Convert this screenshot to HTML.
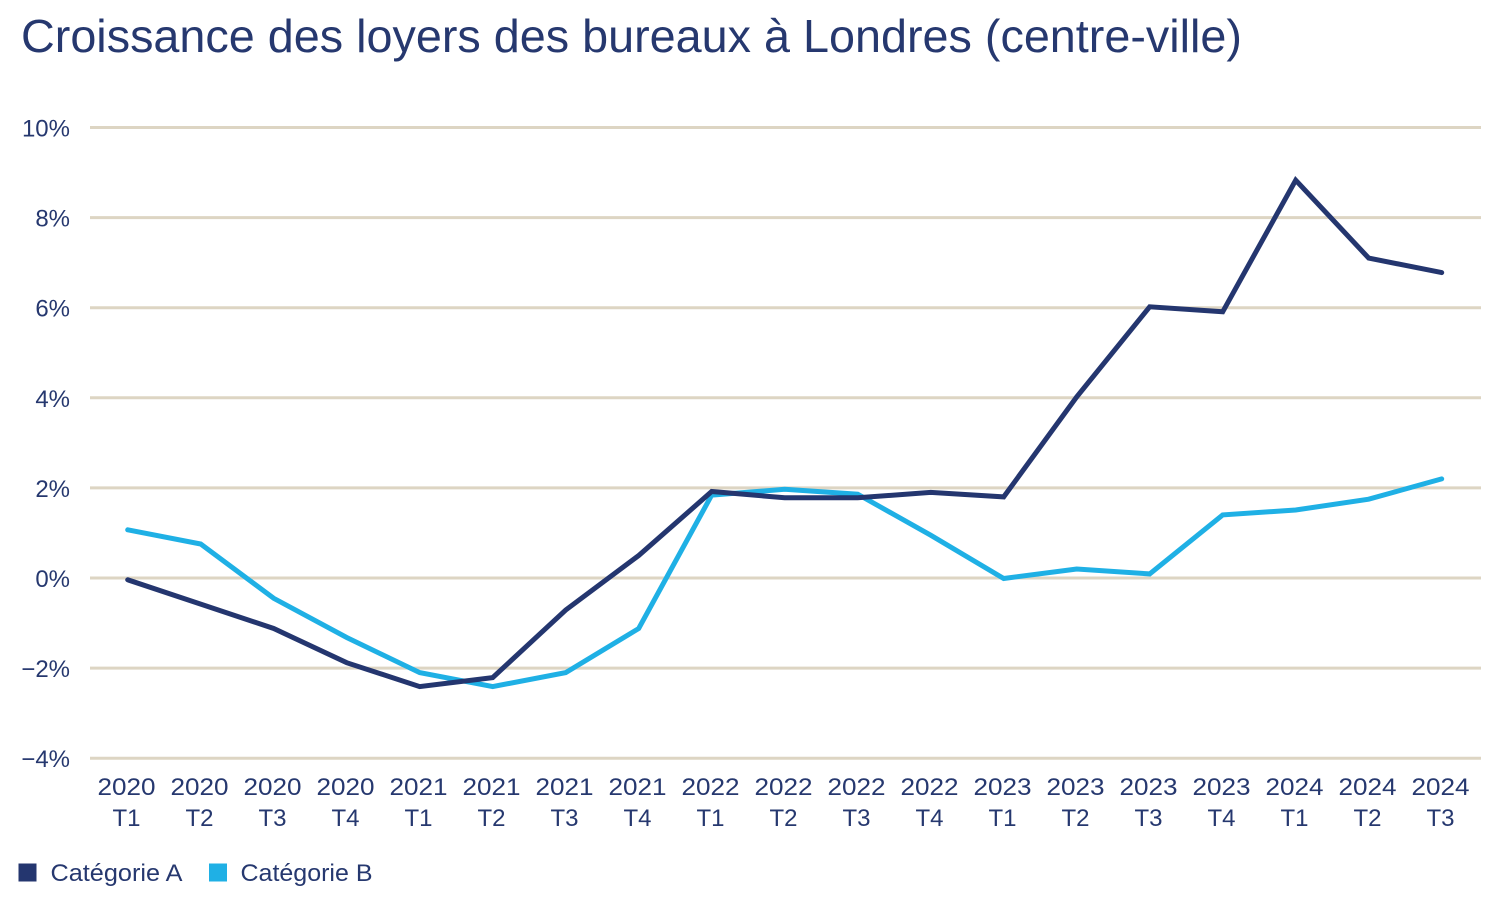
<!DOCTYPE html>
<html>
<head>
<meta charset="utf-8">
<style>
  html,body{margin:0;padding:0;background:#ffffff;}
  svg{display:block;}
  text{font-family:"Liberation Sans", Arial, sans-serif;fill:#26386f;}
</style>
</head>
<body>
<svg width="1500" height="900" viewBox="0 0 1500 900" xmlns="http://www.w3.org/2000/svg">
  <rect width="1500" height="900" fill="#ffffff"/>
  <!-- Title -->
  <text x="21" y="52" font-size="46" textLength="1221" lengthAdjust="spacingAndGlyphs">Croissance des loyers des bureaux à Londres (centre-ville)</text>

  <!-- Gridlines -->
  <g stroke="#ddd5c3" stroke-width="3">
    <line x1="90" y1="127.5" x2="1481" y2="127.5"/>
    <line x1="90" y1="217.6" x2="1481" y2="217.6"/>
    <line x1="90" y1="307.7" x2="1481" y2="307.7"/>
    <line x1="90" y1="397.8" x2="1481" y2="397.8"/>
    <line x1="90" y1="487.9" x2="1481" y2="487.9"/>
    <line x1="90" y1="578" x2="1481" y2="578"/>
    <line x1="90" y1="668.1" x2="1481" y2="668.1"/>
    <line x1="90" y1="758.2" x2="1481" y2="758.2"/>
  </g>

  <!-- Y labels -->
  <g font-size="24" text-anchor="end">
    <text x="70" y="136.5">10%</text>
    <text x="70" y="226.6">8%</text>
    <text x="70" y="316.7">6%</text>
    <text x="70" y="406.8">4%</text>
    <text x="70" y="496.9">2%</text>
    <text x="70" y="587">0%</text>
    <text x="70" y="677.1">−2%</text>
    <text x="70" y="767.2">−4%</text>
  </g>

  <!-- X labels -->
  <g font-size="24" text-anchor="middle">
    <text x="126.5" y="795" textLength="58" lengthAdjust="spacingAndGlyphs">2020</text><text x="126.5" y="826">T1</text>
    <text x="199.5" y="795" textLength="58" lengthAdjust="spacingAndGlyphs">2020</text><text x="199.5" y="826">T2</text>
    <text x="272.5" y="795" textLength="58" lengthAdjust="spacingAndGlyphs">2020</text><text x="272.5" y="826">T3</text>
    <text x="345.5" y="795" textLength="58" lengthAdjust="spacingAndGlyphs">2020</text><text x="345.5" y="826">T4</text>
    <text x="418.5" y="795" textLength="58" lengthAdjust="spacingAndGlyphs">2021</text><text x="418.5" y="826">T1</text>
    <text x="491.5" y="795" textLength="58" lengthAdjust="spacingAndGlyphs">2021</text><text x="491.5" y="826">T2</text>
    <text x="564.5" y="795" textLength="58" lengthAdjust="spacingAndGlyphs">2021</text><text x="564.5" y="826">T3</text>
    <text x="637.5" y="795" textLength="58" lengthAdjust="spacingAndGlyphs">2021</text><text x="637.5" y="826">T4</text>
    <text x="710.5" y="795" textLength="58" lengthAdjust="spacingAndGlyphs">2022</text><text x="710.5" y="826">T1</text>
    <text x="783.5" y="795" textLength="58" lengthAdjust="spacingAndGlyphs">2022</text><text x="783.5" y="826">T2</text>
    <text x="856.5" y="795" textLength="58" lengthAdjust="spacingAndGlyphs">2022</text><text x="856.5" y="826">T3</text>
    <text x="929.5" y="795" textLength="58" lengthAdjust="spacingAndGlyphs">2022</text><text x="929.5" y="826">T4</text>
    <text x="1002.5" y="795" textLength="58" lengthAdjust="spacingAndGlyphs">2023</text><text x="1002.5" y="826">T1</text>
    <text x="1075.5" y="795" textLength="58" lengthAdjust="spacingAndGlyphs">2023</text><text x="1075.5" y="826">T2</text>
    <text x="1148.5" y="795" textLength="58" lengthAdjust="spacingAndGlyphs">2023</text><text x="1148.5" y="826">T3</text>
    <text x="1221.5" y="795" textLength="58" lengthAdjust="spacingAndGlyphs">2023</text><text x="1221.5" y="826">T4</text>
    <text x="1294.5" y="795" textLength="58" lengthAdjust="spacingAndGlyphs">2024</text><text x="1294.5" y="826">T1</text>
    <text x="1367.5" y="795" textLength="58" lengthAdjust="spacingAndGlyphs">2024</text><text x="1367.5" y="826">T2</text>
    <text x="1440.5" y="795" textLength="58" lengthAdjust="spacingAndGlyphs">2024</text><text x="1440.5" y="826">T3</text>
  </g>

  <!-- Series B (light blue) -->
  <polyline fill="none" stroke="#1fb0e5" stroke-width="5" stroke-linecap="round" stroke-linejoin="miter"
    points="127.7,529.8 200.7,544.0 273.7,598.3 346.7,637.5 419.7,672.6 492.7,686.6 565.7,672.6 638.7,628.5 711.7,495.1 784.7,489.3 857.7,494.2 930.7,535.2 1003.7,578.5 1076.7,569.0 1149.7,573.9 1222.7,514.9 1295.7,510.0 1368.7,499.2 1441.7,478.9"/>

  <!-- Series A (navy) -->
  <polyline fill="none" stroke="#24366f" stroke-width="5" stroke-linecap="round" stroke-linejoin="miter"
    points="127.7,579.8 200.7,604.1 273.7,628.5 346.7,662.7 419.7,686.6 492.7,677.6 565.7,610.0 638.7,555.5 711.7,491.5 784.7,497.8 857.7,497.8 930.7,492.4 1003.7,496.9 1076.7,396.9 1149.7,306.8 1222.7,311.8 1295.7,180.2 1368.7,258.1 1441.7,272.6"/>

  <!-- Legend -->
  <rect x="18.5" y="863.5" width="18" height="18" fill="#24366f"/>
  <text x="50.5" y="881" font-size="24" textLength="132" lengthAdjust="spacingAndGlyphs">Catégorie A</text>
  <rect x="209" y="863.5" width="18" height="18" fill="#1fb0e5"/>
  <text x="240.5" y="881" font-size="24" textLength="132" lengthAdjust="spacingAndGlyphs">Catégorie B</text>
</svg>
</body>
</html>
